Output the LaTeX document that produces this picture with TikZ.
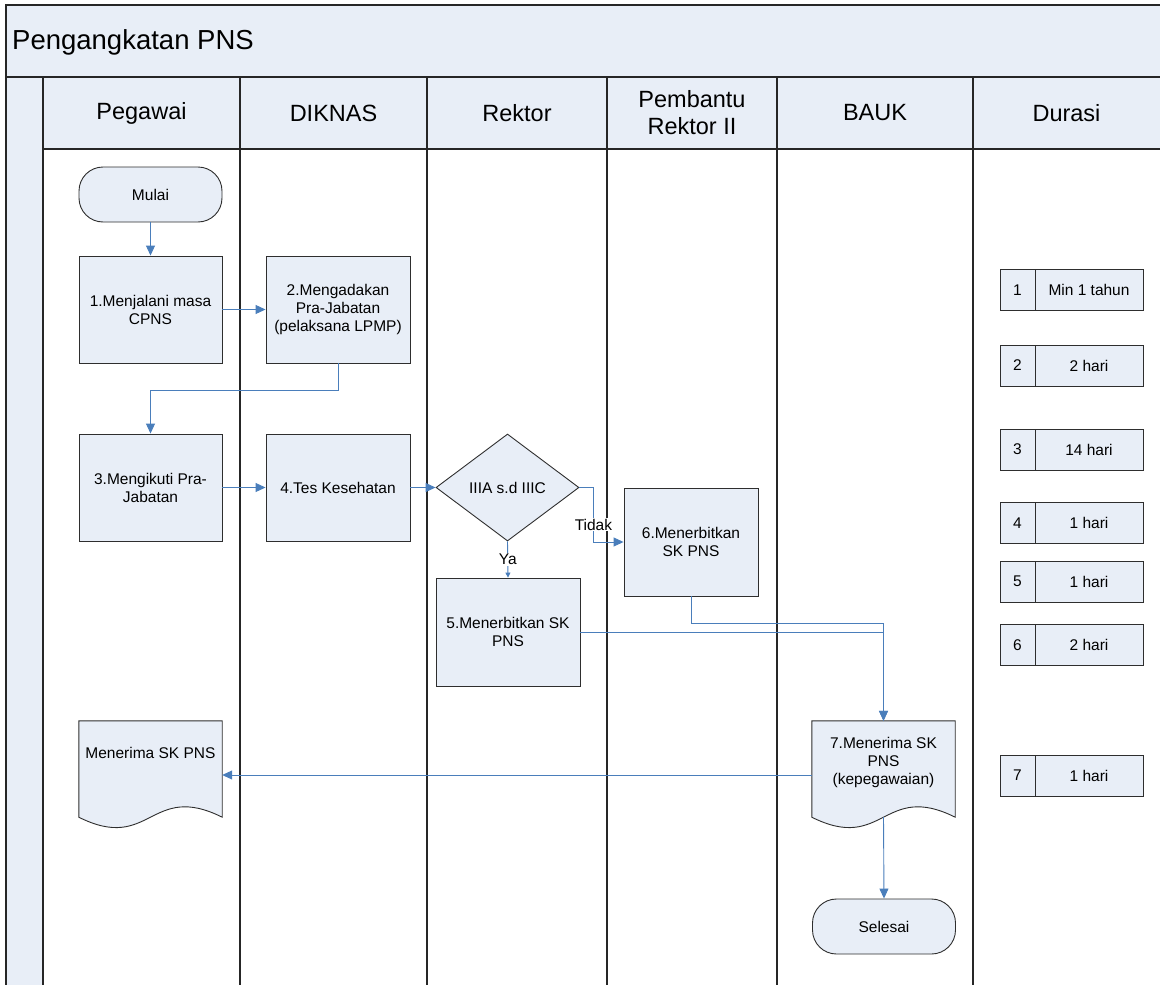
\documentclass[tikz,border=0pt]{standalone}
\usepackage{fontspec}
\setmainfont{Liberation Sans}
\usetikzlibrary{shapes.geometric,arrows.meta,calc}
\pgfdeclarelayer{background}
\pgfsetlayers{background,main}
\definecolor{lanefill}{HTML}{E8EEF7}
\definecolor{flowblue}{HTML}{4A7EBB}
\definecolor{edgegray}{HTML}{2E2E2E}
% lift text inside a node without changing the node's size
\newcommand\liftup[2]{\raisebox{#1}[\height][\depth]{#2}}
\newcommand\stack[1]{\begin{tabular}{@{}c@{}}#1\end{tabular}}

\begin{document}
\begin{tikzpicture}[x=1pt,y=-1pt,
  every node/.style={font=\fontsize{15.5}{18}\selectfont, inner sep=0pt},
  lane/.style={draw=black!85, line width=1.3pt},
  shapeline/.style={draw=edgegray, fill=lanefill, line width=0.9pt},
  proc/.style={shapeline, minimum width=143pt, minimum height=107pt, align=center},
  term/.style={shapeline, minimum width=143pt, minimum height=55pt, rounded corners=24pt},
  decision/.style={diamond, shapeline, aspect=1.34, minimum width=143pt, minimum height=107pt},
  docnode/.style={draw=none, fill=none, minimum width=143pt, minimum height=96pt, align=center},
  docline/.style={shapeline},
  cell/.style={shapeline, minimum height=41pt},
  numcell/.style={cell, minimum width=35pt},
  valcell/.style={cell, minimum width=108pt},
  header/.style={font=\fontsize{23.5}{27}\selectfont, align=center},
  flow/.style={draw=flowblue, line width=0.9pt, -{Triangle[length=10pt,width=9pt]}},
  smallflow/.style={draw=flowblue, line width=0.9pt, -{Triangle[length=5pt,width=5pt]}},
  lbl/.style={fill=white, inner sep=1pt}
]
\useasboundingbox (0,0) rectangle (1160,985);

% swimlane frame
\begin{pgfonlayer}{background}
  \fill[lanefill] (6,5) rectangle (1160,77);
  \fill[lanefill] (43,77) rectangle (1160,149);
  \fill[lanefill] (6,77) rectangle (43,985);
  \draw[lane] (1160,5) -- (6,5) -- (6,985);
  \draw[lane] (6,77) -- (1160,77);
  \draw[lane] (43,149) -- (1160,149);
  \draw[lane] (43,77) -- (43,985);
  \foreach \x in {240,427,607,777,973} \draw[lane] (\x,77) -- (\x,985);
\end{pgfonlayer}

% title and lane headers
\node[anchor=west, font=\fontsize{27.5}{32}\selectfont] (ttl) at (12,42) {Pengangkatan PNS};
\node[header] (h1) at (141.5,113) {Pegawai};
\node[header] (h2) at (333.5,113) {DIKNAS};
\node[header] (h3) at (517,113) {Rektor};
\node[header, font=\fontsize{23.5}{27}\selectfont] (h4) at (692,113) {Pembantu\\Rektor II};
\node[header] (h5) at (875,113) {BAUK};
\node[header] (h6) at (1066.5,113) {Durasi};

% process steps
\node[term] (mulai) at (150.5,194.5) {Mulai};
\node[proc] (b1) at (150.5,309.5) {1.Menjalani masa\\CPNS};
\node[proc, minimum width=144pt] (b2) at (338,309.5) {2.Mengadakan\\Pra-Jabatan\\(pelaksana LPMP)};
\node[proc] (b3) at (150.5,487.5) {3.Mengikuti Pra-\\Jabatan};
\node[proc, minimum width=144pt] (b4) at (338,487.5) {4.Tes Kesehatan};
\node[decision] (dec) at (507.5,487.5) {IIIA s.d IIIC};
\node[proc, minimum width=134pt, minimum height=108pt] (b6) at (691,542) {6.Menerbitkan\\SK PNS};
\node[proc, minimum width=144pt, minimum height=108pt] (b5) at (508,632) {5.Menerbitkan SK\\PNS};
\node[docnode] (b7) at (883.5,769) {\liftup{6pt}{\stack{7.Menerima SK\\PNS\\(kepegawaian)}}};
\node[docnode] (recv) at (150.5,769) {\liftup{16pt}{Menerima SK PNS}};
\node[term] (selesai) at (884,926.5) {Selesai};

% document outlines with wavy lower edge
\begin{pgfonlayer}{background}
  \foreach \d in {b7,recv}
    \draw[docline] (\d.south west) -- (\d.north west) -- (\d.north east) -- (\d.south east)
      .. controls +(-72,-36) and +(72,36) .. (\d.south west) -- cycle;
\end{pgfonlayer}

% duration table
\foreach \i/\y/\t in {1/290/Min 1 tahun, 2/365.5/2 hari, 3/449.5/14 hari, 4/523/1 hari,
                      5/581.5/1 hari, 6/645/2 hari, 7/775.5/1 hari} {
  \node[numcell] (n\i) at (1017.5,\y) {\i};
  \node[valcell] (v\i) at (1089,\y) {\t};
}

% connectors
\draw[flow] (mulai) -- (b1);
\draw[flow] (b1) -- (b2);
\draw[flow] (b2.south) -- ++(0,27) -| (b3.north);
\draw[flow] (b3) -- (b4);
\draw[flow] (b4) -- (dec);
\draw[flow] (dec.east) -- ++(14,0) -- node[lbl, pos=0.68] (tidak) {Tidak} ++(0,54.5) -- (b6.west);
\draw[smallflow] (dec.south) -- node[lbl] (ya) {Ya} (b5.north);
\draw[flow] (b6.south) -- ++(0,27) -| (b7.north);
\draw[flow] (b5.east) -| (b7.north);
\draw[flow] ([yshift=-6pt]b7.west) -- ([yshift=-6pt]recv.east);
\draw[flow] (b7.south) -- (selesai.north);
\end{tikzpicture}
\end{document}
